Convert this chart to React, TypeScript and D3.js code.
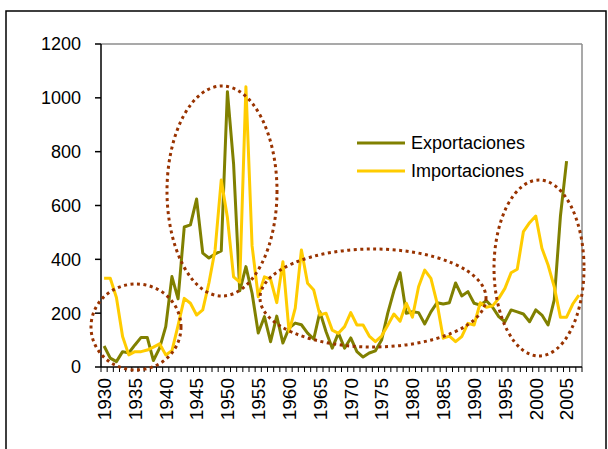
import React from "react";
import * as d3 from "d3";

const years: number[] = d3.range(1930, 2008);

const exportaciones: number[] = [
  78, 33, 20, 57, 52, 82, 110, 110, 24, 70,
  150, 336, 253, 520, 528, 624, 423, 405, 420, 431,
  1023, 755, 283, 373, 274, 126, 187, 94, 189, 89,
  145, 163, 157, 126, 104, 205, 131, 70, 126, 70,
  108, 57, 37, 52, 60, 100, 200, 283, 350, 200,
  205, 202, 160, 205, 239, 234, 239, 312, 264, 280,
  237, 230, 246, 222, 187, 168, 212, 205, 197, 168,
  212, 193, 156, 249, 560, 765,
];

const importaciones: number[] = [
  330, 330, 258, 113, 45, 57, 57, 63, 74, 86,
  45, 60, 155, 255, 237, 193, 212, 312, 435, 695,
  555, 335, 315, 1041, 450, 261, 335, 326, 239, 391,
  131, 219, 435, 311, 286, 193, 200, 137, 125, 150,
  202, 156, 156, 115, 94, 115, 155, 197, 170, 237,
  185, 298, 360, 329, 237, 107, 115, 94, 113, 162,
  156, 239, 222, 227, 255, 292, 350, 363, 503, 536,
  561, 441, 379, 298, 185, 185, 234, 267,
];

const yTicks: number[] = [0, 200, 400, 600, 800, 1000, 1200];
const xLabelYears: number[] = d3.range(1930, 2006, 5);

const seriesNames: string[] = ["Exportaciones", "Importaciones"];
const seriesColors: string[] = ["#808000", "#FFCC00"];

// highlight ellipses (annotation shapes, in pixel space)
const ellipses = [
  { cx: 136, cy: 327, rx: 45, ry: 43 },
  { cx: 222, cy: 191, rx: 55, ry: 105 },
  { cx: 373, cy: 298, rx: 113, ry: 49 },
  { cx: 539, cy: 268, rx: 45, ry: 88 },
];

export default function App() {
  const W = 608;
  const H = 449;
  const left = 101;
  const right = 582;
  const top = 44;
  const bottom = 367;

  const x = d3.scaleBand<number>().domain(years).range([left, right]).padding(0);
  const y = d3.scaleLinear().domain([0, 1200]).range([bottom, top]);
  const cx = (yr: number) => (x(yr) as number) + x.bandwidth() / 2;

  const line = d3
    .line<number>()
    .x((_, i) => cx(years[i]))
    .y((d) => y(d));

  const font = "'Liberation Sans', Arial, sans-serif";
  const bandEdges = years.map((yr) => x(yr) as number).concat([right]);

  return (
    <svg
      width={W}
      height={H}
      style={{ position: "absolute", left: 0, top: 0, background: "#fff" }}
      fontFamily={font}
    >
      <rect x={0} y={0} width={W} height={H} fill="#fff" />
      <rect x={6} y={11} width={600} height={460} fill="none" stroke="#000" strokeWidth={1.5} />

      {/* plot border (gray top/right) */}
      <line x1={left} x2={right} y1={top} y2={top} stroke="#8c8c8c" strokeWidth={1.5} />
      <line x1={right} x2={right} y1={top} y2={bottom} stroke="#8c8c8c" strokeWidth={1.5} />

      {/* y axis */}
      <line x1={left} x2={left} y1={top} y2={bottom} stroke="#000" strokeWidth={1.5} />
      {yTicks.map((t) => (
        <g key={t}>
          <line x1={left - 6} x2={left} y1={y(t)} y2={y(t)} stroke="#000" strokeWidth={1.5} />
          <text x={81} y={y(t)} dy="0.36em" textAnchor="end" fontSize={18} fill="#000">
            {t}
          </text>
        </g>
      ))}

      {/* x axis */}
      <line x1={left} x2={right} y1={bottom} y2={bottom} stroke="#000" strokeWidth={1.5} />
      {bandEdges.map((e, i) => (
        <line key={i} x1={e} x2={e} y1={bottom} y2={bottom + 5} stroke="#000" strokeWidth={1} />
      ))}
      {xLabelYears.map((yr) => (
        <text
          key={yr}
          transform={`translate(${cx(yr)},${378}) rotate(-90)`}
          dy="0.36em"
          textAnchor="end"
          fontSize={19}
          fill="#000"
        >
          {yr}
        </text>
      ))}

      {/* series */}
      <path d={line(exportaciones) || ""} fill="none" stroke={seriesColors[0]} strokeWidth={3} strokeLinejoin="round" />
      <path d={line(importaciones) || ""} fill="none" stroke={seriesColors[1]} strokeWidth={3} strokeLinejoin="round" />

      {/* highlight ellipses */}
      {ellipses.map((e, i) => (
        <ellipse
          key={i}
          cx={e.cx}
          cy={e.cy}
          rx={e.rx}
          ry={e.ry}
          fill="none"
          stroke="#993300"
          strokeWidth={3}
          strokeDasharray="3 3.5"
        />
      ))}

      {/* legend */}
      {seriesNames.map((n, i) => (
        <g key={n}>
          <line x1={357} x2={405} y1={143 + i * 28} y2={143 + i * 28} stroke={seriesColors[i]} strokeWidth={3} />
          <text x={411} y={143 + i * 28} dy="0.36em" fontSize={18} fill="#000">
            {n}
          </text>
        </g>
      ))}
    </svg>
  );
}
